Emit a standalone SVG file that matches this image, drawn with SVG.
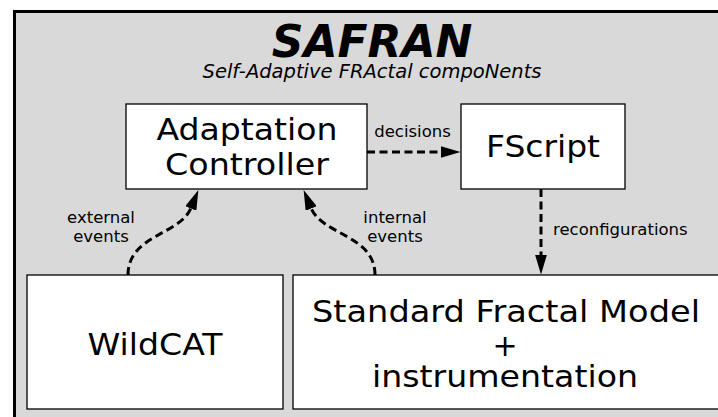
<svg xmlns="http://www.w3.org/2000/svg" width="718" height="417" viewBox="0 0 718 417">
<style>
text{font-family:"DejaVu Sans","Liberation Sans",sans-serif;fill:#000}
.box{fill:#fff;stroke:#000;stroke-width:1.3}
.big{font-size:31px;text-anchor:middle}
.lbl{font-size:16.5px}
.c{text-anchor:middle}
.conn{fill:none;stroke:#000;stroke-width:3;stroke-dasharray:8,4.5}
</style>
<defs>
<marker id="ah" viewBox="0 0 20 12" markerUnits="userSpaceOnUse" markerWidth="20" markerHeight="12" refX="0.5" refY="6" orient="auto">
<path d="M0,0 L20,6 L0,12 z" fill="#000"/>
</marker>
</defs>
<rect x="14.5" y="11.5" width="720" height="420" fill="#d9d9d9" stroke="#000" stroke-width="3"/>
<g id="title">
<text x="372" y="57" style="font-size:44px;font-weight:bold;font-style:italic" class="c">SAFRAN</text>
<text x="372" y="78" style="font-size:19.5px;font-style:italic" class="c">Self-Adaptive FRActal compoNents</text>
</g>
<g id="adaptation-controller">
<rect class="box" x="126" y="104" width="241" height="85"/>
<text class="big" x="247" y="139.5" textLength="181" lengthAdjust="spacingAndGlyphs">Adaptation</text>
<text class="big" x="247" y="175" textLength="164" lengthAdjust="spacingAndGlyphs">Controller</text>
</g>
<g id="fscript">
<rect class="box" x="461" y="104" width="164" height="85"/>
<text class="big" x="543" y="156.5" textLength="114" lengthAdjust="spacingAndGlyphs">FScript</text>
</g>
<g id="wildcat">
<rect class="box" x="27" y="275" width="256" height="134"/>
<text class="big" x="155" y="355" textLength="135" lengthAdjust="spacingAndGlyphs">WildCAT</text>
</g>
<g id="standard-fractal-model">
<rect class="box" x="293" y="275" width="430" height="134"/>
<text class="big" x="506" y="322" textLength="388" lengthAdjust="spacingAndGlyphs">Standard Fractal Model</text>
<text class="big" x="505" y="356" style="font-size:30px">+</text>
<text class="big" x="505" y="387" textLength="266" lengthAdjust="spacingAndGlyphs">instrumentation</text>
</g>
<g id="connectors">
<line class="conn" x1="367" y1="152" x2="441" y2="152" marker-end="url(#ah)"/>
<line class="conn" x1="541" y1="189" x2="541" y2="255" marker-end="url(#ah)"/>
<path class="conn" d="M128,275 C128,235 180,235 191,208" marker-end="url(#ah)"/>
<path class="conn" d="M375,275 C375,235 322,235 311,208" marker-end="url(#ah)"/>
<text class="lbl c" x="412.5" y="137">decisions</text>
<text class="lbl" x="553" y="235">reconfigurations</text>
<text class="lbl c" x="101" y="223">external</text>
<text class="lbl c" x="101" y="242">events</text>
<text class="lbl c" x="395" y="223">internal</text>
<text class="lbl c" x="395" y="242">events</text>
</g>
</svg>
